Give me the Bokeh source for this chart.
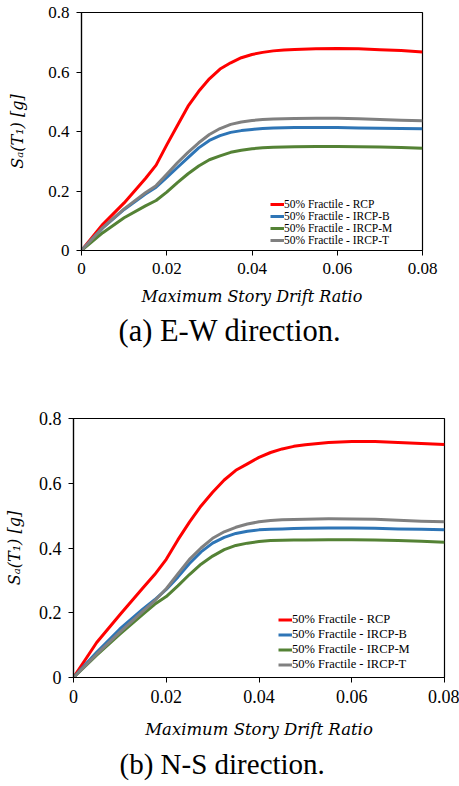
from bokeh.plotting import figure
from bokeh.models import Range1d, FixedTicker, Legend, LegendItem, Title
from bokeh.layouts import column, row
from bokeh.embed import file_html
from bokeh.resources import INLINE

# ---------------- data ----------------
drift = [0, 0.005, 0.01, 0.015, 0.0175, 0.02, 0.0225, 0.025, 0.0275, 0.03,
         0.0325, 0.035, 0.0375, 0.04, 0.0425, 0.045, 0.0475, 0.05,
         0.055, 0.06, 0.065, 0.07, 0.075, 0.08]

# (a) E-W direction
ew_rcp = [0, 0.088, 0.160, 0.242, 0.287, 0.355, 0.420, 0.485, 0.535, 0.577,
          0.610, 0.631, 0.648, 0.659, 0.666, 0.671, 0.674, 0.676,
          0.678, 0.679, 0.678, 0.675, 0.672, 0.667]
ew_ircp_b = [0, 0.076, 0.138, 0.190, 0.213, 0.246, 0.279, 0.312, 0.345, 0.370,
             0.386, 0.397, 0.403, 0.407, 0.410, 0.412, 0.413, 0.4134,
             0.4136, 0.4134, 0.412, 0.411, 0.410, 0.409]
ew_ircp_m = [0, 0.060, 0.110, 0.150, 0.168, 0.196, 0.228, 0.258, 0.284, 0.305,
             0.318, 0.330, 0.337, 0.342, 0.345, 0.347, 0.348, 0.3485,
             0.3494, 0.3496, 0.349, 0.348, 0.346, 0.344]
ew_ircp_t = [0, 0.077, 0.140, 0.194, 0.218, 0.256, 0.295, 0.330, 0.362, 0.390,
             0.410, 0.424, 0.432, 0.437, 0.440, 0.442, 0.443, 0.4437,
             0.4445, 0.4448, 0.443, 0.440, 0.438, 0.436]

# (b) N-S direction
ns_rcp = [0, 0.108, 0.194, 0.277, 0.318, 0.365, 0.425, 0.480, 0.530, 0.572,
          0.610, 0.640, 0.660, 0.680, 0.695, 0.706, 0.714, 0.719,
          0.726, 0.729, 0.729, 0.726, 0.723, 0.720]
ns_ircp_b = [0, 0.078, 0.150, 0.212, 0.240, 0.272, 0.310, 0.352, 0.388, 0.415,
             0.433, 0.445, 0.452, 0.456, 0.458, 0.459, 0.460, 0.461,
             0.4617, 0.4615, 0.461, 0.459, 0.458, 0.456]
ns_ircp_m = [0, 0.069, 0.134, 0.196, 0.226, 0.250, 0.283, 0.318, 0.350, 0.375,
             0.395, 0.408, 0.415, 0.420, 0.423, 0.424, 0.425, 0.425,
             0.4257, 0.4257, 0.425, 0.423, 0.421, 0.418]
ns_ircp_t = [0, 0.072, 0.140, 0.205, 0.237, 0.274, 0.320, 0.365, 0.400, 0.430,
             0.450, 0.464, 0.474, 0.481, 0.485, 0.487, 0.488, 0.489,
             0.490, 0.4895, 0.4885, 0.4857, 0.483, 0.4807]

series_names = ["50% Fractile - RCP", "50% Fractile - IRCP-B",
                "50% Fractile - IRCP-M", "50% Fractile - IRCP-T"]
series_colors = ["#FF0000", "#2E75B6", "#548235", "#808080"]

x_ticks = [0, 0.02, 0.04, 0.06, 0.08]
x_tick_labels = ["0", "0.02", "0.04", "0.06", "0.08"]
y_ticks = [0, 0.2, 0.4, 0.6, 0.8]
y_tick_labels = ["0", "0.2", "0.4", "0.6", "0.8"]

x_title = "Maximum Story Drift Ratio"
y_title = "S\u2090(T\u2081) [g]"

SERIF = "Liberation Serif"


def make_panel(ys, caption, width, height, mb, tick_size, legend_size,
               legend_loc, ylab_standoff, xlab_standoff,
               xlab_size, row_h, title_size, title_standoff, title_offset):
    p = figure(width=width, height=height, output_backend="svg",
               toolbar_location=None,
               x_range=Range1d(0, 0.08), y_range=Range1d(0, 0.8),
               min_border_left=mb[0], min_border_right=mb[1],
               min_border_top=mb[2], min_border_bottom=mb[3])
    p.xgrid.visible = False
    p.ygrid.visible = False
    p.outline_line_color = "black"
    p.outline_line_width = 1.2

    items = []
    for y, name, col in zip(ys, series_names, series_colors):
        r = p.line(drift, y, line_color=col, line_width=3, line_join="round")
        items.append(LegendItem(label=name, renderers=[r]))

    for ax, ticks, labels in ((p.xaxis[0], x_ticks, x_tick_labels),
                              (p.yaxis[0], y_ticks, y_tick_labels)):
        ax.ticker = FixedTicker(ticks=ticks)
        ax.major_label_overrides = {t: l for t, l in zip(ticks, labels)}
        ax.minor_tick_line_color = None
        ax.major_tick_in = 0
        ax.major_tick_out = 5
        ax.axis_line_color = "black"
        ax.axis_line_width = 1.2
        ax.major_tick_line_color = "black"
        ax.major_label_text_font = SERIF
        ax.major_label_text_font_size = tick_size
        ax.major_label_text_color = "black"
        ax.axis_label_text_font = "DejaVu Serif"
        ax.axis_label_text_font_style = "italic"
        ax.axis_label_text_color = "black"

    p.xaxis.axis_label = x_title
    p.xaxis.axis_label_text_font_size = xlab_size
    p.xaxis.axis_label_standoff = xlab_standoff
    p.xaxis.major_label_standoff = 7
    p.yaxis.axis_label = y_title
    p.yaxis.axis_label_text_font_size = "16px"
    p.yaxis.axis_label_standoff = ylab_standoff
    p.yaxis.major_label_standoff = 7

    leg = Legend(items=items, location=legend_loc,
                 label_text_font=SERIF, label_text_font_size=legend_size,
                 label_text_color="black",
                 glyph_width=14, glyph_height=row_h, label_height=row_h,
                 label_standoff=0, spacing=0, padding=0, margin=0,
                 border_line_color=None, background_fill_alpha=0)
    p.add_layout(leg, "center")

    t = Title(text=caption, align="left", text_font=SERIF,
              text_font_size=title_size, text_font_style="normal",
              text_color="black", standoff=title_standoff,
              offset=title_offset)
    p.add_layout(t, "below")
    return p


p1 = make_panel([ew_rcp, ew_ircp_b, ew_ircp_m, ew_ircp_t], "(a) E-W direction.",
                459, 380, (81, 37, 12, 130), "17px", "11.5px", (189, 4),
                18, 10, "16px", 12, "30.5px", 7, 37)
p2 = make_panel([ns_rcp, ns_ircp_b, ns_ircp_m, ns_ircp_t], "(b) N-S direction.",
                459, 406, (73, 15, 38, 109), "18px", "12.5px", (205, 5),
                12, 14, "16.5px", 11, "29px", 8, 46)

layout = column(row(p1), row(p2), spacing=0)
open("out.html", "w").write(file_html(layout, INLINE))
